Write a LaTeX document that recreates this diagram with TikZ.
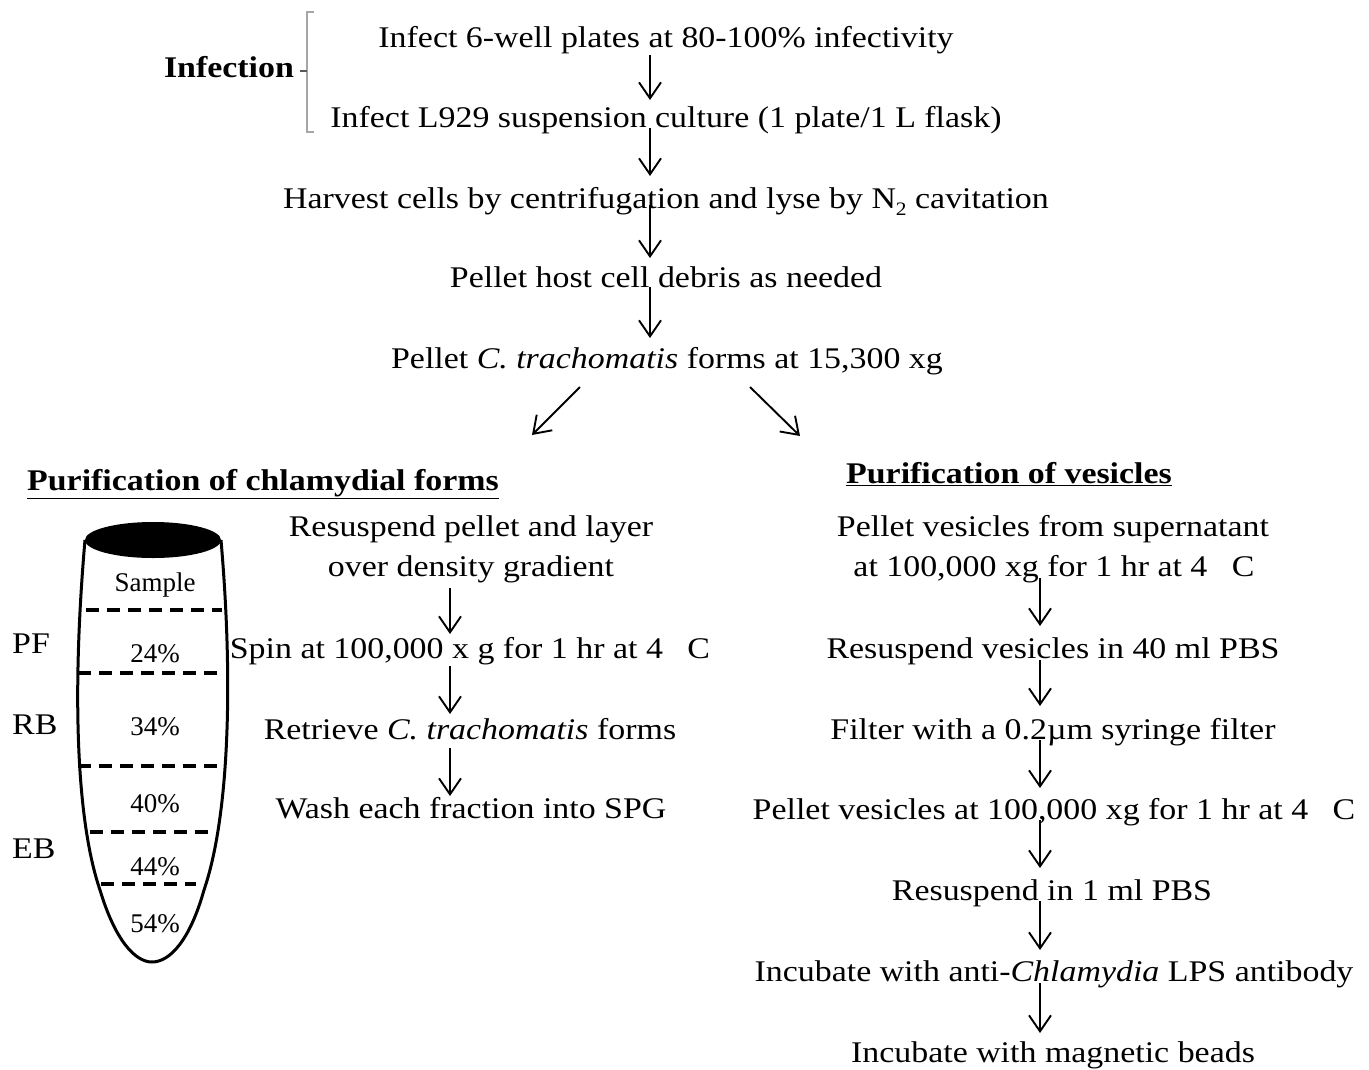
\documentclass[tikz,border=0pt]{standalone}
\usepackage{fontspec}
\setmainfont{Liberation Serif}[FakeStretch=1.13]
\newfontfamily\plainserif{Liberation Serif}
\usetikzlibrary{arrows.meta}
\begin{document}
\begin{tikzpicture}[x=1pt,y=-1pt,
  txt/.style={anchor=base,inner sep=0pt,font=\fontsize{30}{34}\selectfont},
  hd/.style={anchor=base,inner sep=0pt,font=\fontsize{30}{34}\selectfont\bfseries},
  small/.style={anchor=base,inner sep=0pt,font=\plainserif\fontsize{27}{30}\selectfont},
  arr/.style={line width=1.9pt,-{Straight Barb[length=16pt,width=22pt,line width=1.9pt]}},
  dash line/.style={line width=4pt,dash pattern=on 13pt off 8pt}]
\useasboundingbox (0,0) rectangle (1369,1069);
% top flow
\node[txt] (n1) at (666,47) {Infect 6-well plates at 80-100\% infectivity};
\node[txt] (n2) at (666,127) {Infect L929 suspension culture (1 plate/1 L flask)};
\node[txt] (n3) at (666,208) {Harvest cells by centrifugation and lyse by N\raisebox{-7pt}{\fontsize{19}{20}\selectfont 2} cavitation};
\node[txt] (n4) at (666,287) {Pellet host cell debris as needed};
\node[txt] (n5) at (667,368) {Pellet \textit{C. trachomatis} forms at 15,300 xg};
\coordinate (a1s) at (650,55); \coordinate (a1e) at (650,100);
\coordinate (a2s) at (650,128); \coordinate (a2e) at (650,176);
\coordinate (a3s) at (650,205); \coordinate (a3e) at (650,258);
\coordinate (a4s) at (650,287); \coordinate (a4e) at (650,338);
\draw[arr] (a1s) -- (a1e);
\draw[arr] (a2s) -- (a2e);
\draw[arr] (a3s) -- (a3e);
\draw[arr] (a4s) -- (a4e);
\coordinate (dls) at (580,387); \coordinate (dle) at (532,435);
\coordinate (drs) at (750,387); \coordinate (dre) at (800,436);
\draw[arr] (dls) -- (dle);
\draw[arr] (drs) -- (dre);
% infection bracket
\node[hd] (inf) at (229,77) {Infection};
\draw[gray!70,line width=1.6pt] (314,12) -- (307,12) -- (307,132) -- (314,132);
\draw[gray!70!black,line width=1.6pt] (300,71) -- (307,71);
% headings
\node[hd] (hl) at (263,490) {\underline{Purification of chlamydial forms}};
\node[hd] (hr) at (1009,483) {\underline{Purification of vesicles}};
% left column
\node[txt] (l1) at (471,536) {Resuspend pellet and layer};
\node[txt] (l2) at (471,576) {over density gradient};
\node[txt] (l3) at (470,658) {Spin at 100,000 x g for 1 hr at 4 \hspace{16pt}C};
\node[txt] (l4) at (470,739) {Retrieve \textit{C. trachomatis} forms};
\node[txt] (l5) at (471,818) {Wash each fraction into SPG};
\coordinate (b1s) at (450,588); \coordinate (b1e) at (450,634);
\coordinate (b2s) at (450,666); \coordinate (b2e) at (450,714);
\coordinate (b3s) at (450,748); \coordinate (b3e) at (450,796);
\draw[arr] (b1s) -- (b1e);
\draw[arr] (b2s) -- (b2e);
\draw[arr] (b3s) -- (b3e);
% right column
\node[txt] (r1) at (1053,536) {Pellet vesicles from supernatant};
\node[txt] (r2) at (1054,576) {at 100,000 xg for 1 hr at 4 \hspace{16pt}C};
\node[txt] (r3) at (1053,658) {Resuspend vesicles in 40 ml PBS};
\node[txt] (r4) at (1053,739) {Filter with a 0.2µm syringe filter};
\node[txt] (r5) at (1054,819) {Pellet vesicles at 100,000 xg for 1 hr at 4 \hspace{16pt}C};
\node[txt] (r6) at (1052,900) {Resuspend in 1 ml PBS};
\node[txt] (r7) at (1054,981) {Incubate with anti-\textit{Chlamydia} LPS antibody};
\node[txt] (r8) at (1053,1062) {Incubate with magnetic beads};
\coordinate (c1s) at (1040,578); \coordinate (c1e) at (1040,626);
\coordinate (c2s) at (1040,660); \coordinate (c2e) at (1040,706);
\coordinate (c3s) at (1040,740); \coordinate (c3e) at (1040,788);
\coordinate (c4s) at (1040,820); \coordinate (c4e) at (1040,868);
\coordinate (c5s) at (1040,901); \coordinate (c5e) at (1040,950);
\coordinate (c6s) at (1040,983); \coordinate (c6e) at (1040,1033);
\draw[arr] (c1s) -- (c1e);
\draw[arr] (c2s) -- (c2e);
\draw[arr] (c3s) -- (c3e);
\draw[arr] (c4s) -- (c4e);
\draw[arr] (c5s) -- (c5e);
\draw[arr] (c6s) -- (c6e);
% tube
\draw[line width=3pt] (85,540) .. controls (72,690) and (76,820) .. (100,890)
  .. controls (115,940) and (135,962) .. (152,962)
  .. controls (170,962) and (190,940) .. (204,890)
  .. controls (228,820) and (234,690) .. (221,540);
\fill (153,540) ellipse [x radius=68, y radius=18];
\draw[dash line] (86,610) -- (222,610);
\draw[dash line] (78,673) -- (222,673);
\draw[dash line] (78,766) -- (222,766);
\draw[dash line] (90,832) -- (212,832);
\draw[dash line] (101,884) -- (196,884);
\node[small] (s0) at (155,591) {Sample};
\node[small] (s1) at (155,662) {24\%};
\node[small] (s2) at (155,735) {34\%};
\node[small] (s3) at (155,812) {40\%};
\node[small] (s4) at (155,875) {44\%};
\node[small] (s5) at (155,932) {54\%};
\node[txt,anchor=base west] (pf) at (12,653) {PF};
\node[txt,anchor=base west] (rb) at (12,734) {RB};
\node[txt,anchor=base west] (eb) at (12,858) {EB};
\end{tikzpicture}
\end{document}
